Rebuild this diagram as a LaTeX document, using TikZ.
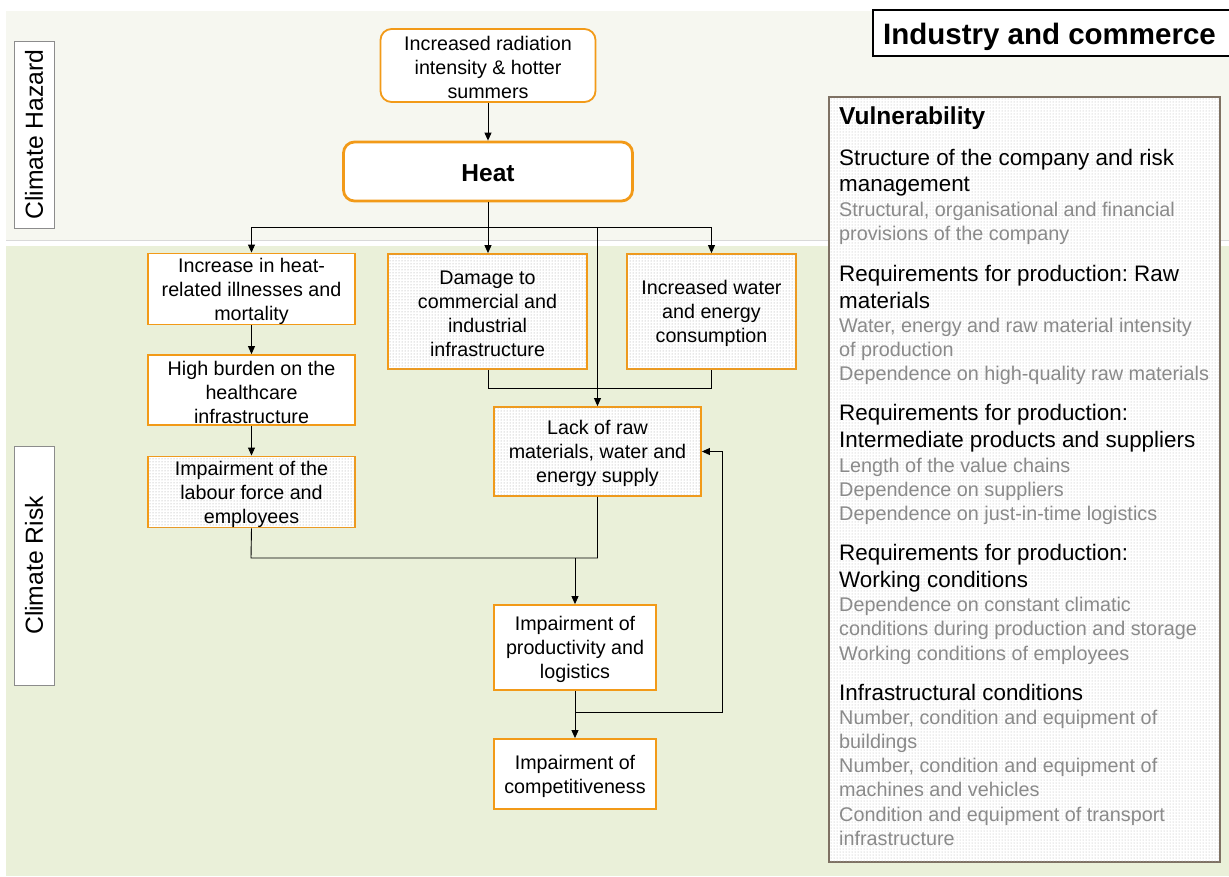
\documentclass[tikz,border=0pt]{standalone}
\usepackage{fontspec}
\setmainfont{Liberation Sans}
\usetikzlibrary{arrows.meta,patterns}
\frenchspacing

\definecolor{orangeC}{HTML}{F29A18}
\definecolor{hazardbg}{HTML}{F6F7F0}
\definecolor{riskbg}{HTML}{EAF0D9}
\definecolor{vulnborder}{HTML}{7E7163}
\definecolor{softgray}{HTML}{8A8A8A}

\newcommand{\flowfont}{\fontsize{19.7}{24}\selectfont}
\newcommand{\headfont}{\fontsize{22.4}{27}\selectfont}
\newcommand{\notefont}{\fontsize{19.8}{24}\selectfont}
% taller first line, so that box texts sit a little lower
\newcommand{\firstline}{\rule{0pt}{19pt}}

\begin{document}
\begin{tikzpicture}[x=1pt,y=-1pt,
  flowbox/.style={draw=orangeC, line width=1.8pt, fill=white, align=center,
    font=\flowfont, inner sep=0pt},
  dotbox/.style={flowbox, postaction={pattern=dots, pattern color=black!38}},
  roundbox/.style={flowbox, rounded corners=11pt},
  sidelabel/.style={draw=black!45, line width=0.8pt, fill=white, rotate=90,
    font=\fontsize{24.7}{28}\selectfont, inner sep=0pt},
  conn/.style={line width=0.9pt},
  arr/.style={conn, -{Triangle[length=8pt,width=7pt]}},
  vhead/.style={anchor=base west, font=\headfont, inner sep=0pt},
  vnote/.style={anchor=base west, font=\notefont, text=softgray, inner sep=0pt}
]
\useasboundingbox (0,0) rectangle (1229,876);

% background bands
\fill[hazardbg] (6,11) rectangle (1229,240);
\draw[black!15, line width=0.8pt] (6,240) -- (1229,240);
\fill[riskbg] (6,246) rectangle (1229,876);

% band labels
\node[sidelabel, minimum width=187, minimum height=40] (hazard) at (34,134.5) {Climate Hazard};
\node[sidelabel, minimum width=239, minimum height=40] (risk) at (34,565.5) {Climate Risk};

% flow nodes
\node[roundbox, minimum width=215, minimum height=73] (rad) at (488,65.5)
  {\firstline Increased radiation\\intensity \& hotter\\summers};
\node[flowbox, rounded corners=11pt, line width=2.8pt, minimum width=289, minimum height=59,
  font=\fontsize{24.5}{28}\selectfont\bfseries] (heat) at (488,171.5) {\rule{0pt}{19.5pt}Heat};

\node[flowbox, minimum width=207, minimum height=70] (ill) at (251.5,289)
  {\firstline Increase in heat-\\related illnesses and\\mortality};
\node[flowbox, minimum width=207, minimum height=70] (burden) at (251.5,390)
  {\firstline High burden on the\\healthcare\\infrastructure};
\node[dotbox, minimum width=207, minimum height=70] (labour) at (251.5,492)
  {\firstline Impairment of the\\labour force and\\employees};

\node[dotbox, minimum width=199, minimum height=115] (dmg) at (487.5,311.5)
  {\firstline Damage to\\commercial and\\industrial\\infrastructure};
\node[dotbox, minimum width=169, minimum height=115] (water) at (711.5,311.5)
  {\firstline Increased water\\and energy\\consumption};

\node[dotbox, minimum width=207, minimum height=89] (lack) at (597.5,451.5)
  {\firstline Lack of raw\\materials, water and\\energy supply};
\node[flowbox, minimum width=162, minimum height=85] (prod) at (575,647.5)
  {\firstline Impairment of\\productivity and\\logistics};
\node[flowbox, minimum width=162, minimum height=70] (comp) at (575,774)
  {\firstline Impairment of\\competitiveness};

% junction points of the connectors
\coordinate (jh) at (488,227);
\coordinate (jd) at (488,388);
\coordinate (jl) at (251,558);
\coordinate (fb) at (722,712);

% connectors
\draw[arr] (rad.south) -- (heat.north);
\draw[conn] (heat.south) -- (jh);
\draw[conn] (ill.north |- jh) -- (water.north |- jh);
\draw[arr] (ill.north |- jh) -- (ill.north);
\draw[arr] (jh) -- (jh |- dmg.north);
\draw[arr] (water.north |- jh) -- (water.north);
\draw[arr] (lack.north |- jh) -- (lack.north);
\draw[conn] (jd |- dmg.south) -- (jd) -- (jd -| water.south) -- (water.south);
\draw[arr] (ill.south) -- (burden.north);
\draw[arr] (burden.south) -- (labour.north);
\draw[conn] (labour.south) -- (jl) -- (jl -| lack.south) -- (lack.south);
\draw[arr] (jl -| prod.north) -- (prod.north);
\draw[arr] (prod.south) -- (comp.north);
\draw[arr] (prod.south |- fb) -- (fb) |- (lack.east);

% sector title
\draw[line width=2.4pt, fill=white] (873,10) rectangle (1240,56);
\node[font=\fontsize{29.5}{32}\selectfont\bfseries, inner sep=0pt, anchor=base] (title) at (1049.5,44)
  {Industry and commerce};

% vulnerability panel
\draw[vulnborder, line width=2.6pt, fill=white, postaction={pattern=dots, pattern color=black!30}]
  (829,97) rectangle (1220,862);
\node[vhead, font=\fontsize{24.5}{28}\selectfont\bfseries] (vt) at (839,124) {Vulnerability};

\node[vhead] (h1a) at (839,165) {Structure of the company and risk};
\node[vhead] (h1b) at (839,191.5) {management};
\node[vnote] (n1a) at (839,216.5) {Structural, organisational and financial};
\node[vnote] (n1b) at (839,240.5) {provisions of the company};

\node[vhead] (h2a) at (839,281.5) {Requirements for production: Raw};
\node[vhead] (h2b) at (839,308) {materials};
\node[vnote] (n2a) at (839,332.5) {Water, energy and raw material intensity};
\node[vnote] (n2b) at (839,356.5) {of production};
\node[vnote] (n2c) at (839,380.5) {Dependence on high-quality raw materials};

\node[vhead] (h3a) at (839,420.7) {Requirements for production:};
\node[vhead] (h3b) at (839,447.5) {Intermediate products and suppliers};
\node[vnote] (n3a) at (839,472) {Length of the value chains};
\node[vnote] (n3b) at (839,496) {Dependence on suppliers};
\node[vnote] (n3c) at (839,520) {Dependence on just-in-time logistics};

\node[vhead] (h4a) at (839,560.7) {Requirements for production:};
\node[vhead] (h4b) at (839,587) {Working conditions};
\node[vnote] (n4a) at (839,611.5) {Dependence on constant climatic};
\node[vnote] (n4b) at (839,635.5) {conditions during production and storage};
\node[vnote] (n4c) at (839,660) {Working conditions of employees};

\node[vhead] (h5a) at (839,700) {Infrastructural conditions};
\node[vnote] (n5a) at (839,724) {Number, condition and equipment of};
\node[vnote] (n5b) at (839,748.3) {buildings};
\node[vnote] (n5c) at (839,772.5) {Number, condition and equipment of};
\node[vnote] (n5d) at (839,796.7) {machines and vehicles};
\node[vnote] (n5e) at (839,821) {Condition and equipment of transport};
\node[vnote] (n5f) at (839,845) {infrastructure};
\end{tikzpicture}
\end{document}
